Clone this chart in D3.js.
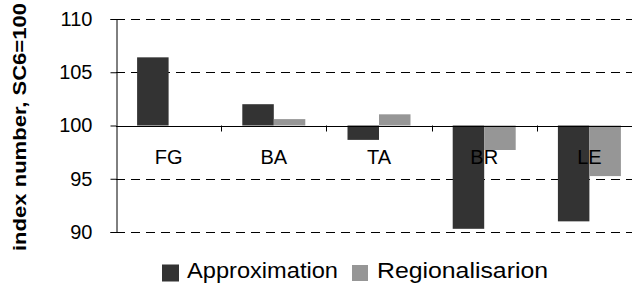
<!DOCTYPE html>
<html>
<head>
<meta charset="utf-8">
<script src="https://cdn.jsdelivr.net/npm/d3@7"></script>
<style>
  body { margin: 0; background: #fff; }
  text { font-family: "Liberation Sans", Arial, sans-serif; fill: #000; }
</style>
</head>
<body>
<div id="chart"></div>
<script>
var categories = ["FG", "BA", "TA", "BR", "LE"];
var series = ["Approximation", "Regionalisarion"];
var approximation = [106.4, 102.0, 98.65, 90.3, 91.0];
var regionalisarion = [100.0, 100.6, 101.05, 97.7, 95.25];
var yTicks = [90, 95, 100, 105, 110];

var colors = {"Approximation": "#333333", "Regionalisarion": "#969696"};
var values = {"Approximation": approximation, "Regionalisarion": regionalisarion};

var width = 632, height = 288;

var svg = d3.select("#chart")
  .append("svg")
  .attr("width", width)
  .attr("height", height);

// scales
var x = d3.scaleBand()
  .domain(categories)
  .range([116, 642])
  .padding(0);

var x1 = d3.scaleBand()
  .domain(series)
  .range([0, x.bandwidth()])
  .paddingInner(0)
  .paddingOuter(0.67);

var y = d3.scaleLinear()
  .domain([90, 110])
  .range([232, 19]);

// dashed gridlines (not at 100, the axis sits there)
svg.append("g")
  .selectAll("line")
  .data(yTicks.filter(function(d) { return d != 100; }))
  .enter()
  .append("line")
  .attr("x1", 116)
  .attr("x2", width)
  .attr("y1", function(d) { return Math.round(y(d)) + 0.5; })
  .attr("y2", function(d) { return Math.round(y(d)) + 0.5; })
  .attr("stroke", "#000")
  .attr("stroke-width", 1)
  .attr("stroke-dasharray", "9,6");

// bars
var rows = [];
categories.forEach(function(c, i) {
  series.forEach(function(s) {
    rows.push({cat: c, ser: s, val: values[s][i]});
  });
});

svg.append("g")
  .selectAll("rect")
  .data(rows)
  .enter()
  .append("rect")
  .attr("x", function(d) { return x(d.cat) + x1(d.ser); })
  .attr("width", x1.bandwidth())
  .attr("y", function(d) { return y(Math.max(d.val, 100)); })
  .attr("height", function(d) { return Math.abs(y(d.val) - y(100)); })
  .attr("fill", function(d) { return colors[d.ser]; });

// y axis
var yAxis = d3.axisLeft(y)
  .tickValues(yTicks)
  .tickSize(6)
  .tickPadding(18)
  .tickFormat(d3.format("d"));

var gy = svg.append("g")
  .attr("transform", "translate(116.5,0)")
  .call(yAxis);
gy.select(".domain").attr("stroke", "#000");
gy.selectAll(".tick line").attr("stroke", "#000");
gy.selectAll(".tick text")
  .attr("font-size", 20)
  .attr("font-family", "Liberation Sans, Arial, sans-serif")
  .attr("fill", "#000");

// x axis along 100
var xAxis = d3.axisBottom(x)
  .tickSize(0)
  .tickFormat("");

var gx = svg.append("g")
  .attr("transform", "translate(0," + (Math.round(y(100)) + 0.5) + ")")
  .call(xAxis);
gx.select(".domain").attr("stroke", "#000").attr("d", "M116,0H" + width);

// category dividers below the axis
svg.append("g")
  .selectAll("line")
  .data(categories.slice(1))
  .enter()
  .append("line")
  .attr("x1", function(d) { return Math.round(x(d)) + 0.5; })
  .attr("x2", function(d) { return Math.round(x(d)) + 0.5; })
  .attr("y1", y(100))
  .attr("y2", y(100) + 6)
  .attr("stroke", "#000");

// category labels
svg.append("g")
  .selectAll("text")
  .data(categories)
  .enter()
  .append("text")
  .attr("x", function(d) { return x(d) + x.bandwidth() / 2; })
  .attr("y", y(100) + 38)
  .attr("text-anchor", "middle")
  .attr("font-size", 20)
  .text(function(d) { return d; });

// y axis title
svg.append("text")
  .attr("transform", "translate(26," + 127 + ") rotate(-90)")
  .attr("text-anchor", "middle")
  .attr("font-size", 19)
  .attr("font-weight", "bold")
  .attr("textLength", 248)
  .attr("lengthAdjust", "spacingAndGlyphs")
  .text("index number, SC6=100");

// legend
var legendItems = [
  {name: "Approximation", box: 162, size: 17, tx: 187, tw: 151},
  {name: "Regionalisarion", box: 352, size: 16, tx: 377, tw: 171}
];

var legend = svg.append("g");
legend.selectAll("rect")
  .data(legendItems)
  .enter()
  .append("rect")
  .attr("x", function(d) { return d.box; })
  .attr("y", function(d) { return 273 - d.size / 2; })
  .attr("width", function(d) { return d.size; })
  .attr("height", function(d) { return d.size; })
  .attr("fill", function(d) { return colors[d.name]; });

legend.selectAll("text")
  .data(legendItems)
  .enter()
  .append("text")
  .attr("x", function(d) { return d.tx; })
  .attr("y", 278)
  .attr("font-size", 22)
  .attr("textLength", function(d) { return d.tw; })
  .attr("lengthAdjust", "spacingAndGlyphs")
  .text(function(d) { return d.name; });
</script>
</body>
</html>
